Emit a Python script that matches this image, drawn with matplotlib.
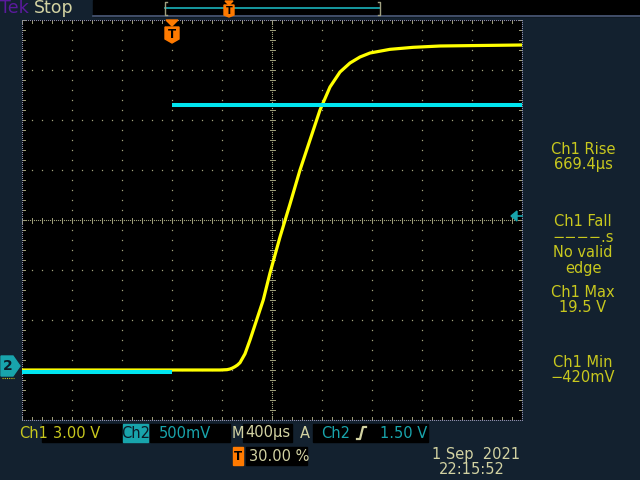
import numpy as np
import matplotlib
matplotlib.use("Agg")
import matplotlib.pyplot as plt
from matplotlib.patches import Polygon, Rectangle

# ---------------- data ----------------
ch1_t_us = [-1200, 0, 384, 440, 464, 484, 504, 524, 544, 584, 624, 677, 730, 784, 864, 944, 1024,
            1104, 1184, 1264, 1344, 1424, 1504, 1584, 1744, 1928, 2144, 2464, 2800]
ch1_v = [-0.12, -0.12, -0.12, -0.10, -0.06, 0.0, 0.08, 0.18, 0.32, 0.85, 1.68, 2.88, 4.08,
         5.70, 7.86, 9.84, 11.88, 13.68, 15.48, 16.86, 17.76, 18.30, 18.66, 18.90, 19.12,
         19.24, 19.32, 19.35, 19.38]
ch2_t_us = [-1200, 0, np.nan, 0, 2800]
ch2_v = [-0.06, -0.06, np.nan, 2.61, 2.61]

ch1_scale = 3.0      # V/div
ch2_scale = 0.5      # V/div
ch1_offset = -2.96   # div
ch2_offset = -2.92   # div
time_per_div = 400   # us
trig_pos_us = 0
trig_level = 1.50

meas_labels = ["Ch1 Rise\n669.4µs", "Ch1 Fall\n\u2212\u2212\u2212\u2212.s\nNo valid\nedge",
               "Ch1 Max\n19.5 V", "Ch1 Min\n\u2212420mV"]

# ---------------- colours ----------------
BG = "#13212f"
YEL = "#ffff00"
CYAN = "#00e6f0"
TEAL = "#18a4ac"
GRID = "#a0a07c"
PALE = "#d2d2a2"
CH1TXT = "#c8c81e"
ORANGE = "#ff7a00"

fig = plt.figure(figsize=(6.4, 4.8), dpi=100, facecolor=BG)

# plot area: x 22..522, y 20..420 px
ax = fig.add_axes([22 / 640, 60 / 480, 500 / 640, 400 / 480])
ax.set_facecolor("black")
xmin, xmax = -1200, 2800
ax.set_xlim(xmin, xmax)
ax.set_ylim(-4, 4)
ax.set_xticks([]); ax.set_yticks([])
for s in ax.spines.values():
    s.set_visible(False)

us_per_px = time_per_div / 50.0
div_per_px = 1 / 50.0

# grid dots on major lines
gx, gy = [], []
for k in range(1, 10):
    t = xmin + k * time_per_div
    if k == 5:
        continue
    for j in range(0, 41):
        gx.append(t); gy.append(-4 + 0.2 * j)
for yl in [-3, -2, -1, 1, 2, 3]:
    for j in range(0, 51):
        gx.append(xmin + j * time_per_div / 5); gy.append(yl)
ax.plot(gx, gy, ls="none", marker="s", ms=0.9, mew=0, color=GRID, zorder=1)

# center crosshair, dense dots + ticks
tc = xmin + 5 * time_per_div
cx = [tc] * 201 + [xmin + j * 2 * us_per_px for j in range(251)]
cy = [-4 + j * 2 * div_per_px for j in range(201)] + [0] * 251
ax.plot(cx, cy, ls="none", marker="s", ms=0.8, mew=0, color=GRID, zorder=1)
for j in range(41):
    yv = -4 + 0.2 * j
    ax.plot([tc - 2.5 * us_per_px, tc + 2.5 * us_per_px], [yv, yv], color=GRID, lw=0.7, zorder=1)
for j in range(51):
    xv = xmin + j * time_per_div / 5
    ax.plot([xv, xv], [-2.5 * div_per_px, 2.5 * div_per_px], color=GRID, lw=0.7, zorder=1)

# border ticks
for j in range(51):
    xv = xmin + j * time_per_div / 5
    ax.plot([xv, xv], [4, 4 - 3 * div_per_px], color=GRID, lw=0.7, zorder=1)
    ax.plot([xv, xv], [-4, -4 + 3 * div_per_px], color=GRID, lw=0.7, zorder=1)
for j in range(41):
    yv = -4 + 0.2 * j
    ax.plot([xmin, xmin + 3 * us_per_px], [yv, yv], color=GRID, lw=0.7, zorder=1)
    ax.plot([xmax, xmax - 3 * us_per_px], [yv, yv], color=GRID, lw=0.7, zorder=1)
for xv in [xmin, xmax]:
    ax.plot([xv] * 201, [-4 + j * 2 * div_per_px for j in range(201)], ls="none",
            marker="s", ms=0.8, mew=0, color="#8c8ca8", zorder=1)
for yv in [-4, 4]:
    ax.plot([xmin + j * 2 * us_per_px for j in range(251)], [yv] * 251, ls="none",
            marker="s", ms=0.8, mew=0, color="#8c8ca8", zorder=1)

# traces
y1 = np.array(ch1_v) / ch1_scale + ch1_offset
y2 = np.array(ch2_v) / ch2_scale + ch2_offset
ax.plot(ch1_t_us, y1, color=YEL, lw=2.3, zorder=3, solid_capstyle="butt")
ax.plot(ch2_t_us, y2, color=CYAN, lw=2.9, zorder=4, solid_capstyle="butt")

# ---------------- overlay (pixel coords) ----------------
ov = fig.add_axes([0, 0, 1, 1], zorder=10)
ov.set_xlim(0, 640); ov.set_ylim(480, 0)
ov.axis("off")
ov.patch.set_alpha(0)

FONT = "DejaVu Sans"
FS = 10.5

# top bar
ov.add_patch(Rectangle((93, 0), 547, 16, color="black", zorder=1))
ov.plot([93, 640], [16, 16], color="#4c5c7c", lw=1.2, zorder=2)
ov.text(0, 8, "Tek", color="#5a1a9c", fontsize=12.5, family=FONT, va="center", ha="left", zorder=3)
ov.text(34, 8, "Stop", color=PALE, fontsize=12.5, family=FONT, va="center", ha="left", zorder=3)
ov.plot([165, 380], [8, 8], color=TEAL, lw=1.3, zorder=2)
ov.plot([167, 165, 165, 167], [2, 2, 15, 15], color="#a0a080", lw=1, zorder=2)
ov.plot([378, 380, 380, 378], [2, 2, 15, 15], color="#a0a080", lw=1, zorder=2)
# trigger marker on record bar
ov.add_patch(Polygon([(225, 1), (233, 1), (229, 5)], color=ORANGE, zorder=4))
ov.add_patch(Polygon([(224, 5), (234, 5), (234, 15), (229, 17), (224, 15)], color=ORANGE, zorder=4))
ov.text(229, 11, "T", color="black", fontsize=7, weight="bold", ha="center", va="center", zorder=5)
# trigger marker on graticule
ov.add_patch(Polygon([(166, 20), (178, 20), (172, 26)], color=ORANGE, zorder=4))
ov.add_patch(Polygon([(165, 27), (179, 27), (179, 39), (172, 43), (165, 39)], color=ORANGE, zorder=4))
ov.text(172, 34.5, "T", color="black", fontsize=8.5, weight="bold", ha="center", va="center", zorder=5)

# ch2 ground marker
ov.add_patch(Polygon([(1, 356), (13, 356), (20, 366), (13, 376), (1, 376)], color=TEAL, zorder=4))
ov.text(8, 366, "2", color="#0c1a26", fontsize=10, weight="bold", ha="center", va="center", zorder=5)
ov.plot([2, 14], [378, 378], color=CH1TXT, lw=0.8, ls=(0, (1, 1)), zorder=3)
# trigger level arrow
ty = 220 - 50 * (trig_level / ch2_scale + ch2_offset)
ov.add_patch(Polygon([(511, ty), (517, ty - 5), (517, ty + 5)], color=TEAL, zorder=4))
ov.plot([516, 522], [ty, ty], color=TEAL, lw=1.2, zorder=4)

# right measurement panel
ys = [157, 245, 300, 370]
for lab, yy in zip(meas_labels, ys):
    ov.text(583, yy, lab, color=CH1TXT, fontsize=FS, family=FONT, ha="center", va="center",
            linespacing=1.05, zorder=3)

# bottom bar
def box(x0, x1, color="black"):
    ov.add_patch(Rectangle((x0, 424), x1 - x0, 18, color=color, zorder=1))

box(42, 122); box(123, 148, TEAL); box(150, 230); box(243, 292); box(313, 428)
ov.text(19, 433, "Ch1", color=CH1TXT, fontsize=FS, family=FONT, va="center", ha="left", zorder=3)
ov.text(77, 433, "3.00 V", color=CH1TXT, fontsize=FS, family=FONT, va="center", ha="center", zorder=3)
ov.text(135.5, 433, "Ch2", color="#0c1a26", fontsize=FS, family=FONT, va="center", ha="center", zorder=3)
ov.text(185, 433, "500mV", color=TEAL, fontsize=FS, family=FONT, va="center", ha="center", zorder=3)
ov.text(237.5, 433, "M", color=PALE, fontsize=FS, family=FONT, va="center", ha="center", zorder=3)
ov.text(268, 433, "400µs", color=PALE, fontsize=FS, family=FONT, va="center", ha="center", zorder=3)
ov.text(305, 433, "A", color=PALE, fontsize=FS, family=FONT, va="center", ha="center", zorder=3)
ov.text(336, 433, "Ch2", color=TEAL, fontsize=FS, family=FONT, va="center", ha="center", zorder=3)
ov.plot([357, 360, 363, 366], [439, 439, 427, 427], color=PALE, lw=1.6, zorder=3)
ov.text(427, 433, "1.50 V", color=TEAL, fontsize=FS, family=FONT, va="center", ha="right", zorder=3)

# trigger position
ov.add_patch(Rectangle((233, 447), 10, 18, color=ORANGE, zorder=2))
ov.text(238, 456, "T", color="black", fontsize=8.5, weight="bold", ha="center", va="center", zorder=3)
ov.add_patch(Rectangle((246, 447), 61, 18, color="black", zorder=1))
ov.text(249, 456.5, "30.00 %", color=PALE, fontsize=FS, family=FONT, va="center", ha="left", zorder=3)

ov.text(520, 455, "1 Sep  2021", color=PALE, fontsize=FS, family=FONT, va="center", ha="right", zorder=3)
ov.text(439, 469, "22:15:52", color=PALE, fontsize=FS, family=FONT, va="center", ha="left", zorder=3)

fig.savefig("out.png", dpi=100, facecolor=BG)
